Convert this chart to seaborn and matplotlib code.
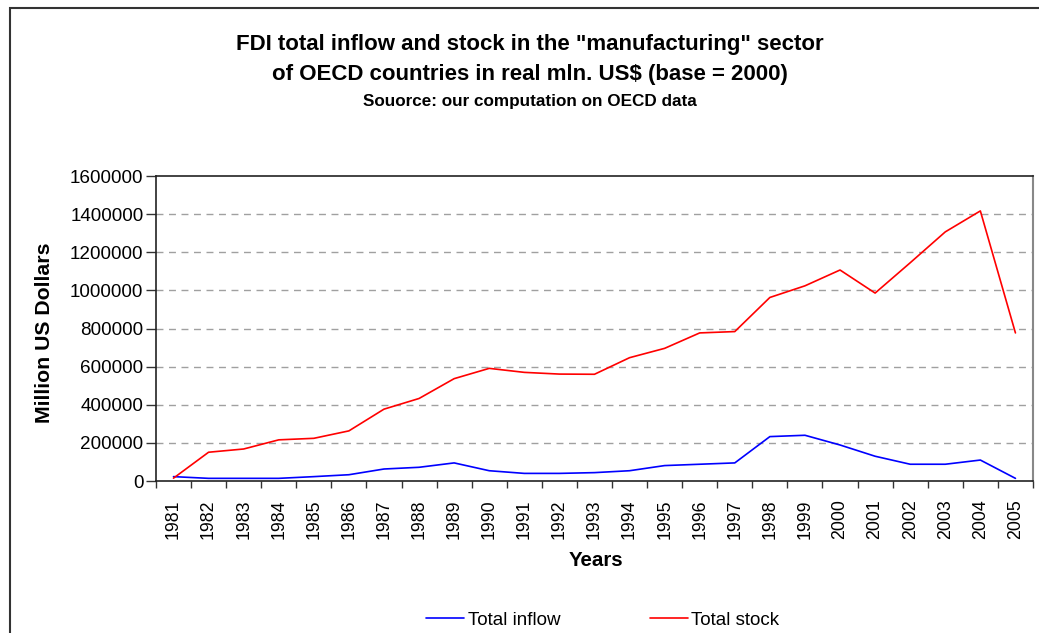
import numpy as np
import pandas as pd
import seaborn as sns
import matplotlib.pyplot as plt
from matplotlib.patches import Rectangle
from matplotlib.ticker import FixedLocator, NullFormatter

years = list(range(1981, 2006))
total_inflow = [23000, 14000, 14000, 14000, 23000, 33000, 63000, 72000, 95000, 54000,
                40000, 40000, 44000, 54000, 81000, 88000, 95000, 233000, 240000, 189000,
                130000, 88000, 88000, 110000, 14000]
total_stock = [15000, 151000, 168000, 216000, 224000, 263000, 377000, 433000, 537000, 591000,
               570000, 561000, 560000, 647000, 696000, 777000, 784000, 963000, 1024000, 1107000,
               986000, 1145000, 1307000, 1417000, 777000]
series_names = ['Total inflow', 'Total stock']
series_colors = ['#0000ff', '#ff0000']

pos = np.arange(len(years))
df = pd.DataFrame({
    'pos': np.concatenate([pos, pos]),
    'value': total_inflow + total_stock,
    'series': [series_names[0]] * len(years) + [series_names[1]] * len(years),
})

sns.set_style('white')
plt.rcParams['font.family'] = ['Liberation Sans', 'DejaVu Sans']
plt.rcParams['text.color'] = 'black'
plt.rcParams['xtick.color'] = 'black'
plt.rcParams['ytick.color'] = 'black'

fig = plt.figure(figsize=(10.39, 6.33), dpi=100, facecolor='w')
ax = fig.add_axes([0.1501, 0.2401, 0.8441, 0.4818])

sns.lineplot(data=df, x='pos', y='value', hue='series', hue_order=series_names,
             palette=series_colors, linewidth=1.2, ax=ax, legend=False)

ax.set_xlim(-0.5, len(years) - 0.5)
ax.set_ylim(0, 1600000)
ax.set_yticks(np.arange(0, 1600001, 200000))
ax.set_yticklabels([str(v) for v in range(0, 1600001, 200000)], fontsize=13.6)
ax.set_xticks(pos)
ax.set_xticklabels([str(y) for y in years], rotation=90, fontsize=12.8)
ax.xaxis.set_minor_locator(FixedLocator(np.arange(-0.5, len(years), 1)))
ax.xaxis.set_minor_formatter(NullFormatter())
ax.tick_params(axis='x', which='major', length=0, pad=13)
ax.tick_params(axis='x', which='minor', length=5, width=1, color='#333333', direction='out', bottom=True)
ax.tick_params(axis='y', length=7, width=1, color='#333333', direction='out', left=True, pad=2)

for y in range(200000, 1400001, 200000):
    ax.axhline(y, color='#a0a0a0', linestyle=(0, (5, 4)), linewidth=1, zorder=0)

for side in ['left', 'bottom', 'top']:
    ax.spines[side].set_color('#222222')
    ax.spines[side].set_linewidth(1.2)
ax.spines['right'].set_color('#888888')
ax.spines['right'].set_linewidth(1.5)

ax.set_xlabel('')
ax.set_ylabel('')

fig.text(0.510, 0.930, 'FDI total inflow and stock in the "manufacturing" sector',
         ha='center', va='center', fontsize=16, fontweight='bold')
fig.text(0.510, 0.883, 'of OECD countries in real mln. US$ (base = 2000)',
         ha='center', va='center', fontsize=16, fontweight='bold')
fig.text(0.510, 0.840, 'Souorce: our computation on OECD data',
         ha='center', va='center', fontsize=12.3, fontweight='bold')
fig.text(45 / 1039, 1 - 333 / 633, 'Million US Dollars', rotation=90,
         ha='center', va='center', fontsize=15.3, fontweight='bold')
fig.text(596 / 1039, 1 - 560 / 633, 'Years', ha='center', va='center',
         fontsize=14.8, fontweight='bold')

handles = [plt.Line2D([], [], color=c, linewidth=1.2) for c in series_colors]
fig.legend(handles, series_names, loc='center', bbox_to_anchor=(603 / 1039, 1 - 620 / 633),
           ncol=2, frameon=False, fontsize=13.5, handlelength=2.0, handletextpad=0.2,
           columnspacing=4.8)

fig.patches.append(Rectangle((10 / 1039, -0.2), 1.2, 1.2 - 8 / 633,
                             transform=fig.transFigure, fill=False,
                             edgecolor='#333333', linewidth=1.5, clip_on=False))

plt.savefig('out.png', dpi=100)
